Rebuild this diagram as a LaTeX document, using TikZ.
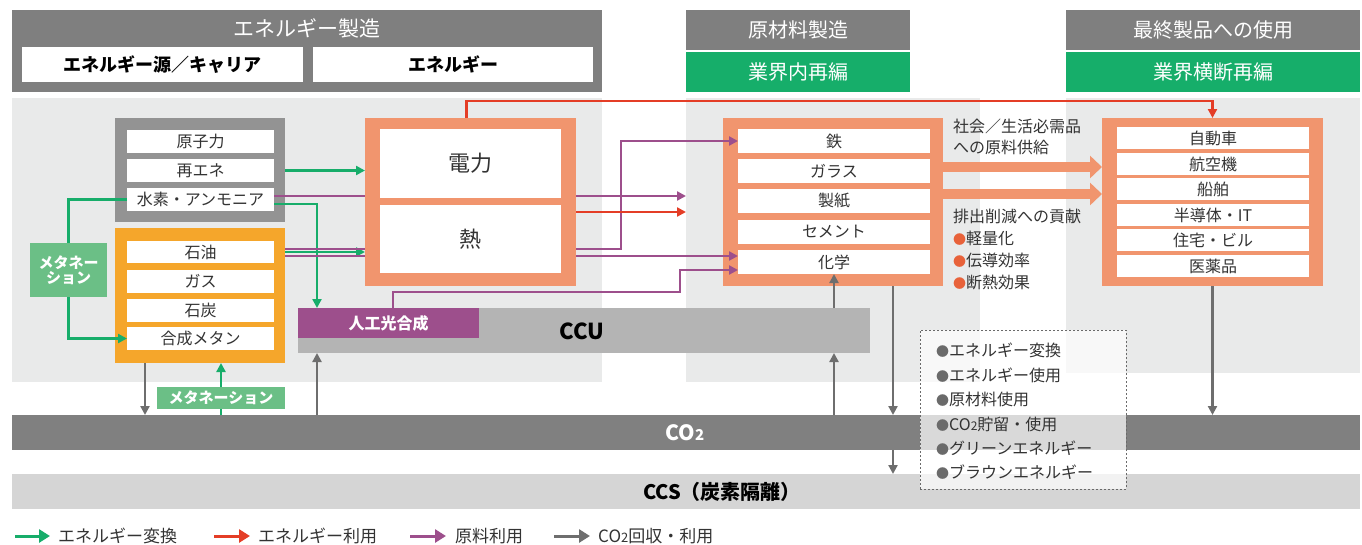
\documentclass[tikz,border=0pt]{standalone}
\usepackage{fontspec}
\setmainfont{Noto Sans CJK JP}
\usetikzlibrary{arrows.meta}
\definecolor{hdr}{HTML}{7F7F7F}
\definecolor{hgrn}{HTML}{16AE6A}
\definecolor{panel}{HTML}{E9EAEA}
\definecolor{gbx}{HTML}{939393}
\definecolor{orng}{HTML}{F5A62B}
\definecolor{salm}{HTML}{F1956E}
\definecolor{garr}{HTML}{17AD6A}
\definecolor{lgrn}{HTML}{6BBF86}
\definecolor{redc}{HTML}{E43D26}
\definecolor{purp}{HTML}{9D4F8C}
\definecolor{carr}{HTML}{6E6E6E}
\definecolor{co2c}{HTML}{808080}
\definecolor{ccsc}{HTML}{D5D5D5}
\definecolor{ccuc}{HTML}{B4B4B4}
\definecolor{txt}{HTML}{333333}
\definecolor{bul}{HTML}{E8623A}
\definecolor{dashc}{HTML}{6A6A6A}
\newcommand\fs[1]{\fontsize{#1}{#1}\selectfont}
\newcommand\bx[7]{\node[rect,minimum width=#4pt,minimum height=#5pt,#6] (#1) at (#2,#3) {#7};}
\begin{document}
\begin{tikzpicture}[x=1pt,y=-1pt,
  rect/.style={inner sep=0pt,outer sep=0pt,anchor=north west},
  row/.style={fill=white,text=txt,font=\fs{16}},
  frow/.style={fill=white,text=txt,font=\fs{16}},
  tip/.style={-{Triangle[length=9pt,width=9pt]}},
  gl/.style={draw=garr,line width=2.4pt},
  rl/.style={draw=redc,line width=2.4pt},
  pl/.style={draw=purp,line width=2.4pt},
  cl/.style={draw=carr,line width=2.4pt},
  lbl/.style={fill=lgrn,text=white,font=\bfseries\fs{15}},
  note/.style={anchor=west,inner sep=0pt,text=txt,font=\fs{16}},
  legt/.style={anchor=west,inner sep=0pt,text=txt,font=\fs{17}}]
\useasboundingbox (0,0) rectangle (1362,544);
% panels
\fill[panel] (12,98) rectangle (602,382);
\fill[panel] (686,98) rectangle (980,382);
\fill[panel] (1066,98) rectangle (1360,373);
% headers
\bx{h1}{12}{10}{590}{82}{fill=hdr}{}
\node[text=white,font=\fs{21}] (h1t) at (307,28) {エネルギー製造};
\bx{h1a}{22}{47}{281}{35}{fill=white,font=\bfseries\fs{18}}{エネルギー源／キャリア}
\bx{h1b}{313}{47}{280}{35}{fill=white,font=\bfseries\fs{18}}{エネルギー}
\bx{h2}{686}{10}{224}{40}{fill=hdr,text=white,font=\fs{20}}{原材料製造}
\bx{h2g}{686}{52}{224}{40}{fill=hgrn,text=white,font=\fs{20}}{業界内再編}
\bx{h3}{1066}{10}{294}{40}{fill=hdr,text=white,font=\fs{20}}{最終製品への使用}
\bx{h3g}{1066}{52}{294}{40}{fill=hgrn,text=white,font=\fs{20}}{業界横断再編}
% energy source boxes
\bx{gbox}{115}{118}{170}{104}{fill=gbx}{}
\bx{r1}{127}{130}{147}{23}{row}{原子力}
\bx{r2}{127}{159}{147}{23}{row}{再エネ}
\bx{r3}{127}{188}{147}{23}{row}{水素・アンモニア}
\bx{obox}{115}{228}{170}{135}{fill=orng}{}
\bx{r4}{127}{241}{147}{22}{row}{石油}
\bx{r5}{127}{270}{147}{23}{row}{ガス}
\bx{r6}{127}{299}{147}{23}{row}{石炭}
\bx{r7}{127}{327}{147}{23}{row}{合成メタン}
% power/heat
\bx{pbox}{365}{118}{211}{168}{fill=salm}{}
\bx{elec}{380}{129}{181}{69}{fill=white,text=txt,font=\fs{22}}{電力}
\bx{heat}{380}{205}{181}{68}{fill=white,text=txt,font=\fs{22}}{熱}
% raw materials
\bx{mbox}{723}{118}{220}{168}{fill=salm}{}
\bx{m1}{738}{129}{192}{24}{row}{鉄}
\bx{m2}{738}{159}{192}{24}{row}{ガラス}
\bx{m3}{738}{189}{192}{24}{row}{製紙}
\bx{m4}{738}{220}{192}{24}{row}{セメント}
\bx{m5}{738}{250}{192}{24}{row}{化学}
% final products
\bx{fbox}{1102}{118}{221}{168}{fill=salm}{}
\bx{f1}{1117}{127}{192}{22}{frow}{自動車}
\bx{f2}{1117}{153}{192}{22}{frow}{航空機}
\bx{f3}{1117}{178}{192}{22}{frow}{船舶}
\bx{f4}{1117}{204}{192}{22}{frow}{半導体・IT}
\bx{f5}{1117}{229}{192}{22}{frow}{住宅・ビル}
\bx{f6}{1117}{255}{192}{22}{frow}{医薬品}
% CCU
\bx{ccu}{298}{308}{572}{45}{fill=ccuc}{}
\node[font=\bfseries\fs{22}] (ccut) at (582,331) {CCU};
\bx{ap}{298}{308}{181}{30}{fill=purp,text=white,font=\bfseries\fs{16}}{人工光合成}
% bars
\bx{co2}{12}{415}{1348}{35}{fill=co2c}{}
\node[text=white,font=\bfseries\fs{21}] (co2t) at (685,433) {CO{\fs{15}2}};
\bx{ccs}{12}{474}{1348}{35}{fill=ccsc}{}
\node[font=\bfseries\fs{20}] (ccst) at (722,492) {CCS（炭素隔離）};
% free-end coordinates
\coordinate (pA) at (686,196);
\coordinate (rA) at (686,212);
% connectors: green
\draw[gl,tip] (r2.east-|gbox.east) -- (r2.east-|pbox.west);
\draw[gl,tip] (obox.east|-r4.east) -- (r4.east-|pbox.west);
\draw[gl,tip] ([yshift=7pt]r3.south east) -| ([xshift=19pt]ap.north west);
% purple
\draw[pl] ([yshift=-8pt]r3.north east) -- ([yshift=-8pt]r3.north east-|pbox.west);
\draw[pl,tip] (pbox.east|-pA) -- (pA);
\draw[pl] (obox.east|-0,249) -- (pbox.west|-0,249);
\draw[pl,tip] (pbox.east|-0,249) -- (621,249) |- (m1.west);
\draw[pl] (obox.east|-0,256) -- (pbox.west|-0,256);
\draw[pl,tip] (pbox.east|-0,256) -- (m5.west|-0,256);
\draw[pl,tip] ([xshift=95pt]ap.north west) |- (680,292) |- (m5.west|-0,270);
% red
\draw[rl,tip] (pbox.east|-rA) -- (rA);
\draw[rl,tip] ([xshift=-4pt]pbox.north) |- (fbox.north|-0,101) -- (fbox.north);
% gray CO2
\draw[cl,tip] ([xshift=30pt]obox.south west) -- ([xshift=30pt]obox.south west|-co2.north);
\draw[cl,tip] ([xshift=19pt]ap.north west|-co2.north) -- ([xshift=19pt]ap.north west|-ccu.south);
\draw[cl,tip] (m5.south|-co2.north) -- (m5.south|-ccu.south);
\draw[cl,tip] (m5.south|-ccu.north) -- (m5.south);
\draw[cl,tip] (893,286) -- (893,415);
\draw[cl,tip] (893,450) -- (893,474);
\draw[cl,tip] (fbox.south) -- (fbox.south|-co2.north);
% salmon thick arrows
\draw[draw=salm,line width=10pt,-{Triangle[length=12pt,width=22pt]}] (mbox.east|-0,167) -- (fbox.west|-0,167);
\draw[draw=salm,line width=10pt,-{Triangle[length=12pt,width=22pt]}] (mbox.east|-0,194) -- (fbox.west|-0,194);
% methanation labels
\bx{lbl1}{30}{243}{77}{54}{lbl,align=center}{メタネー\\ション}
\draw[gl] (r3.west) -| (lbl1.north);
\draw[gl,tip] (lbl1.south) |- (r7.west);
\bx{lbl2}{157}{387}{128}{22}{lbl}{メタネーション}
\draw[gl] (lbl2.south|-co2.north) -- (lbl2.south);
\draw[gl,tip] (lbl2.north) -- (lbl2.north|-obox.south);
% texts right of raw materials
\node[note] (s1) at (953,126) {社会／生活必需品};
\node[note] (s2) at (953,147) {への原料供給};
\node[note] (e1) at (953,216) {排出削減への貢献};
\node[note] (e2) at (953,238) {{\color{bul}\fs{13}●}軽量化};
\node[note] (e3) at (953,260) {{\color{bul}\fs{13}●}伝導効率};
\node[note] (e4) at (953,282) {{\color{bul}\fs{13}●}断熱効果};
% dashed note box
\bx{nbox}{920}{330}{206}{159}{draw=dashc,line width=1pt,dash pattern=on 2pt off 2pt,fill=white,fill opacity=0.7,text opacity=1}{}
\node[note] (n1) at (936,350) {{\color{dashc}\fs{13}●}エネルギー変換};
\node[note] (n2) at (936,375) {{\color{dashc}\fs{13}●}エネルギー使用};
\node[note] (n3) at (936,399) {{\color{dashc}\fs{13}●}原材料使用};
\node[note] (n4) at (936,424) {{\color{dashc}\fs{13}●}CO{\fs{12}2}貯留・使用};
\node[note] (n5) at (936,448) {{\color{dashc}\fs{13}●}グリーンエネルギー};
\node[note] (n6) at (936,472) {{\color{dashc}\fs{13}●}ブラウンエネルギー};
% legend
\coordinate (lg1a) at (15,536); \coordinate (lg1b) at (50,536);
\coordinate (lg2a) at (214,536); \coordinate (lg2b) at (250,536);
\coordinate (lg3a) at (410,536); \coordinate (lg3b) at (446,536);
\coordinate (lg4a) at (554,536); \coordinate (lg4b) at (590,536);
\draw[gl,line width=3pt,-{Triangle[length=11pt,width=13pt]}] (lg1a) -- (lg1b);
\draw[rl,line width=3pt,-{Triangle[length=11pt,width=13pt]}] (lg2a) -- (lg2b);
\draw[pl,line width=3pt,-{Triangle[length=11pt,width=13pt]}] (lg3a) -- (lg3b);
\draw[cl,line width=3pt,-{Triangle[length=11pt,width=13pt]}] (lg4a) -- (lg4b);
\node[legt] (lt1) at (58,536) {エネルギー変換};
\node[legt] (lt2) at (258,536) {エネルギー利用};
\node[legt] (lt3) at (455,536) {原料利用};
\node[legt] (lt4) at (598,536) {CO{\fs{13}2}回収・利用};
\end{tikzpicture}
\end{document}
